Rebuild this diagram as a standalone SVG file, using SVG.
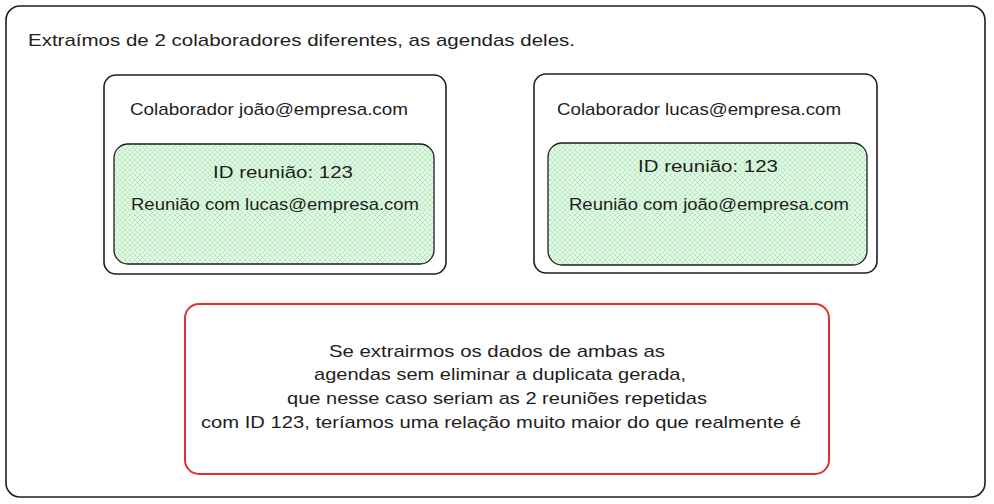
<svg xmlns="http://www.w3.org/2000/svg" width="994" height="504" viewBox="0 0 994 504">
<defs>
<pattern id="hatch" width="5" height="5" patternUnits="userSpaceOnUse">
<rect width="5" height="5" fill="#e6f9e9"/>
<path d="M0,0 L5,5 M5,0 L0,5" stroke="#a6e8b0" stroke-width="0.8"/>
</pattern>
</defs>
<style>
.box{fill:#ffffff;stroke:#1e1e1e;stroke-width:1.6}
.green{fill:url(#hatch);stroke:#1e1e1e;stroke-width:1.3}
.red{fill:#ffffff;stroke:#e03131;stroke-width:2}
text{font-family:"Liberation Sans","DejaVu Sans",sans-serif;font-size:17px;fill:#1e1e1e}
.c{text-anchor:middle}
</style>
<rect width="994" height="504" fill="#ffffff"/>
<g id="outer">
<rect x="6" y="6" width="979" height="491" rx="14" class="box" stroke-width="2"/>
<text x="28" y="46" textLength="547" lengthAdjust="spacingAndGlyphs">Extraímos de 2 colaboradores diferentes, as agendas deles.</text>
</g>
<g id="colab-joao">
<rect x="104" y="75" width="342" height="199" rx="12" class="box"/>
<text x="130" y="115" textLength="278" lengthAdjust="spacingAndGlyphs">Colaborador joão@empresa.com</text>
</g>
<g id="reuniao-joao">
<rect x="114" y="144" width="320" height="120" rx="14" class="green"/>
<text x="283" y="178" class="c" textLength="140" lengthAdjust="spacingAndGlyphs">ID reunião: 123</text>
<text x="275" y="210" class="c" textLength="288" lengthAdjust="spacingAndGlyphs">Reunião com lucas@empresa.com</text>
</g>
<g id="colab-lucas">
<rect x="534" y="74" width="343" height="199" rx="12" class="box"/>
<text x="557" y="115" textLength="284" lengthAdjust="spacingAndGlyphs">Colaborador lucas@empresa.com</text>
</g>
<g id="reuniao-lucas">
<rect x="548" y="143" width="319" height="122" rx="14" class="green"/>
<text x="708" y="172" class="c" textLength="140" lengthAdjust="spacingAndGlyphs">ID reunião: 123</text>
<text x="709" y="210" class="c" textLength="280" lengthAdjust="spacingAndGlyphs">Reunião com joão@empresa.com</text>
</g>
<g id="nota">
<rect x="185" y="304" width="644" height="170" rx="14" class="red"/>
<text x="497" y="357" class="c" textLength="336" lengthAdjust="spacingAndGlyphs">Se extrairmos os dados de ambas as</text>
<text x="500" y="380" class="c" textLength="372" lengthAdjust="spacingAndGlyphs">agendas sem eliminar a duplicata gerada,</text>
<text x="497" y="404" class="c" textLength="420" lengthAdjust="spacingAndGlyphs">que nesse caso seriam as 2 reuniões repetidas</text>
<text x="501" y="428" class="c" textLength="600" lengthAdjust="spacingAndGlyphs">com ID 123, teríamos uma relação muito maior do que realmente é</text>
</g>
<g id="connectors"></g>
</svg>
